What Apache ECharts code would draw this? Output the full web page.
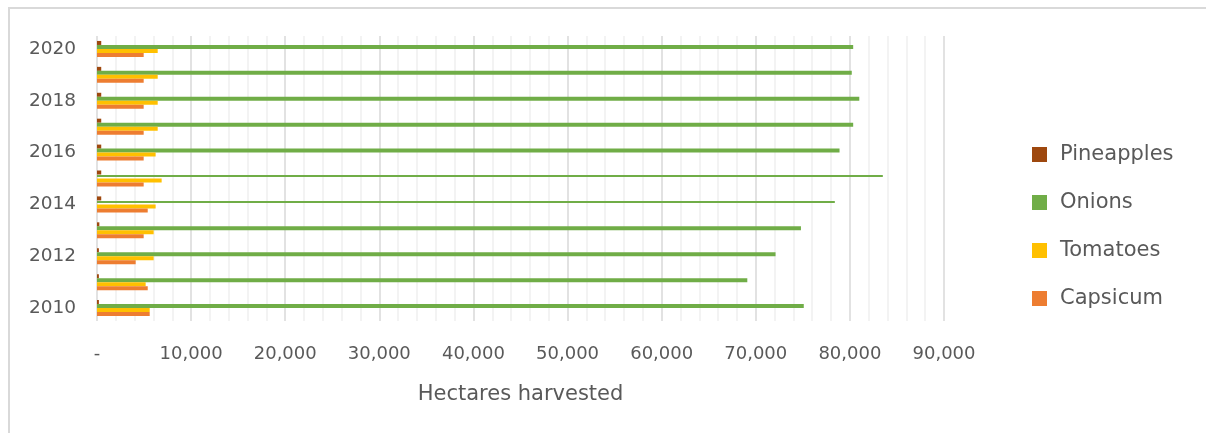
<!DOCTYPE html>
<html>
<head>
<meta charset="utf-8">
<script src="https://cdn.jsdelivr.net/npm/echarts@6/dist/echarts.min.js"></script>
<style>
html,body{margin:0;padding:0;background:#fff;overflow:hidden;}
#chart{width:1206px;height:433px;}
</style>
</head>
<body>
<div id="chart"></div>
<script>
const years = ['2010','2011','2012','2013','2014','2015','2016','2017','2018','2019','2020'];
const pineapples = [200, 200, 200, 250, 450, 450, 450, 450, 450, 450, 450];
const onions = [75100, 69100, 72100, 74800, 78400, 83500, 78900, 80350, 81000, 80200, 80350];
const tomatoes = [5600, 5170, 6020, 6020, 6230, 6870, 6230, 6450, 6450, 6450, 6450];
const capsicum = [5600, 5390, 4110, 4960, 5390, 4960, 4960, 4960, 4960, 4960, 4960];
const thinYears = ['2014', '2015'];

const TXT = '#595959';
const FONT = 'DejaVu Sans';
const colors = {Pineapples:'#9E480E', Onions:'#70AD47', Tomatoes:'#FFC000', Capsicum:'#ED7D31'};

function thinStyle(c) {
  const t = 'rgba(255,255,255,0)';
  return {color:{type:'linear',x:0,y:0,x2:0,y2:1,colorStops:[
    {offset:0,color:t},{offset:0.25,color:t},{offset:0.25,color:c},
    {offset:0.75,color:c},{offset:0.75,color:t},{offset:1,color:t}]}};
}
const onionData = onions.map((v,i) => thinYears.includes(years[i]) ? {value:v, itemStyle:thinStyle(colors.Onions)} : v);

function mk(name, data) {
  return {name, type:'bar', data, barWidth:4, barGap:'0%',
    itemStyle:{color:colors[name]}, emphasis:{disabled:true}, animation:false};
}

const chart = echarts.init(document.getElementById('chart'), null, {renderer:'canvas'});
chart.setOption({
  animation:false,
  textStyle:{fontFamily:FONT},
  grid:{left:97, right:262, top:36, bottom:112, containLabel:false},
  legend:{
    orient:'vertical', left:1027, top:139,
    data:['Pineapples','Onions','Tomatoes','Capsicum'],
    itemWidth:15, itemHeight:15, itemGap:27, icon:'rect',
    textStyle:{color:TXT, fontSize:21, fontFamily:FONT, lineHeight:21, padding:[0,0,0,8]},
    selectedMode:false
  },
  xAxis:{
    type:'value', min:0, max:90000, interval:10000,
    name:'Hectares harvested', nameLocation:'middle', nameGap:63,
    nameTextStyle:{color:TXT, fontSize:21, fontFamily:FONT},
    axisLine:{show:false}, axisTick:{show:false},
    axisLabel:{color:TXT, fontSize:18, fontFamily:FONT, margin:24,
      formatter: v => v === 0 ? '-' : v.toLocaleString('en-US')},
    splitLine:{show:true, lineStyle:{color:'#D9D9D9', width:1.5}},
    minorTick:{show:false, splitNumber:5},
    minorSplitLine:{show:true, lineStyle:{color:'#F0F0F0', width:1.5}}
  },
  yAxis:{
    type:'category', data:years,
    axisLine:{show:false}, axisTick:{show:false},
    axisLabel:{color:TXT, fontSize:18.5, fontFamily:FONT, interval:1, margin:21},
    splitLine:{show:false}
  },
  graphic:[
    {type:'rect', shape:{x:9, y:8, width:1300, height:500}, style:{stroke:'#D9D9D9', lineWidth:2, fill:null}, silent:true, z:-1}
  ],
  series:[
    mk('Pineapples', pineapples),
    mk('Onions', onionData),
    mk('Tomatoes', tomatoes),
    mk('Capsicum', capsicum)
  ]
});
</script>
</body>
</html>
